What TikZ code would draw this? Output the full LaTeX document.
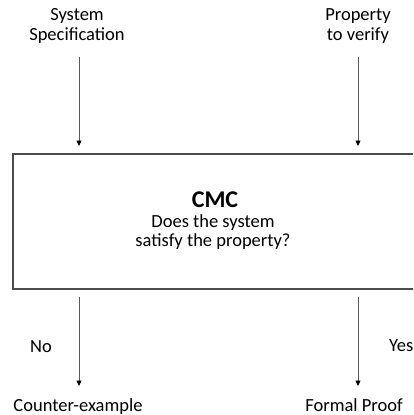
\documentclass[tikz,border=0pt]{standalone}
\usepackage{fontspec}
\setmainfont{Carlito}
\usetikzlibrary{arrows.meta}
\begin{document}
\begin{tikzpicture}[x=1pt,y=-1pt,
  lbl/.style={font=\fontsize{18.5}{19.5}\selectfont, align=center, inner sep=0pt, anchor=base},
  flow/.style={draw=black!65, line width=0.7pt, -{Triangle[length=5.5pt,width=5pt,color=black,fill=black]}},
  boxst/.style={draw=black!70, line width=1.1pt}]
\useasboundingbox (0,0) rectangle (413,415);
\clip (0,0) rectangle (413,415);
\node[lbl] (sys) at (77,40) {System\\Specification};
\node[lbl] (prop) at (358,40) {Property\\to verify};
\coordinate (sysA) at (79,57);
\coordinate (propA) at (358,57);
\draw[boxst] (13,154) rectangle (430,289);
\node[font=\fontsize{24}{26}\selectfont\bfseries, inner sep=0pt, anchor=base] (cmc) at (215,207) {CMC};
\node[lbl] (q) at (213,246.5) {Does the system\\satisfy the property?};
\coordinate (sysB) at (79,146);
\coordinate (propB) at (358,146);
\draw[flow] (sysA) -- (sysB);
\draw[flow] (propA) -- (propB);
\coordinate (noA) at (79,297);
\coordinate (noB) at (79,386);
\coordinate (yesA) at (358,297);
\coordinate (yesB) at (358,386);
\draw[flow] (noA) -- (noB);
\draw[flow] (yesA) -- (yesB);
\node[lbl] (no) at (41,352) {No};
\node[lbl, anchor=base west] (yes) at (389,351) {Yes};
\node[lbl] (ce) at (78,411) {Counter-example};
\node[lbl] (fp) at (354,411) {Formal Proof};
\end{tikzpicture}
\end{document}
